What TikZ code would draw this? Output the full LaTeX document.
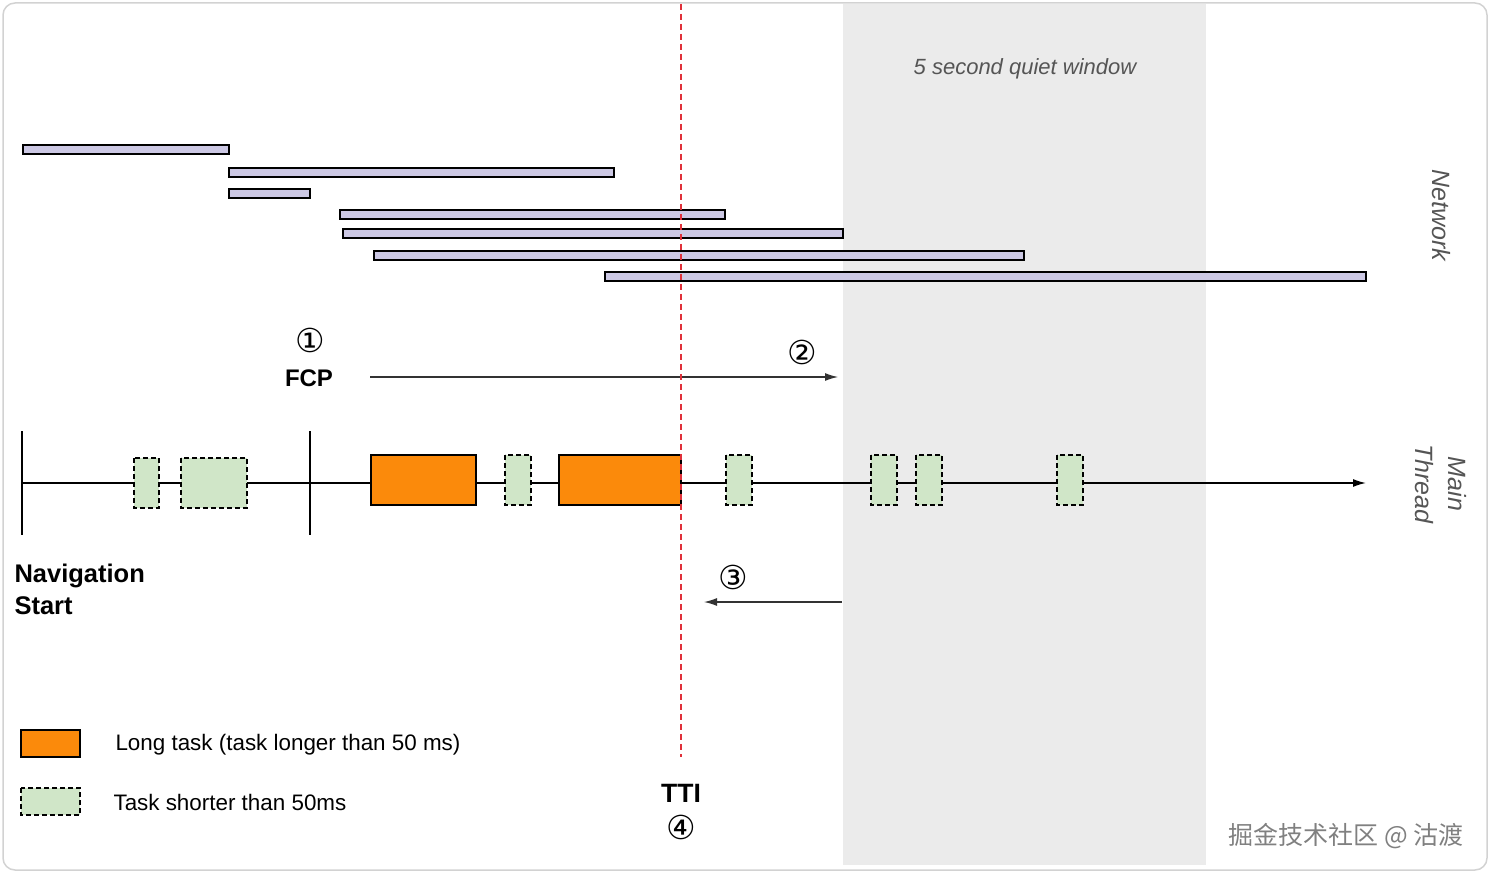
\documentclass[tikz,border=0pt]{standalone}
\usepackage{fontspec}
\setmainfont{Liberation Sans}
\newfontfamily\circfont{DejaVu Sans}
\newfontfamily\cjkfont{Noto Sans CJK SC}
\usetikzlibrary{arrows.meta}

\definecolor{reqcol}{HTML}{CCC8E4}
\definecolor{longcol}{HTML}{FB8A0B}
\definecolor{shortcol}{HTML}{D0E6C8}
\definecolor{quietcol}{HTML}{EBEBEB}
\definecolor{tticol}{HTML}{E0303A}
\definecolor{labelcol}{HTML}{555555}
\definecolor{arrowcol}{HTML}{333333}

\tikzset{
  request/.style={draw=black, fill=reqcol, line width=1.3pt},
  longtask/.style={draw=black, fill=longcol, line width=1.5pt},
  shorttask/.style={draw=black, fill=shortcol, line width=1.3pt, dash pattern=on 5pt off 3pt},
  circnum/.style={font=\circfont\fontsize{33}{33}\selectfont},
  boldlabel/.style={font=\bfseries\fontsize{24}{31}\selectfont},
  sidelabel/.style={labelcol, rotate=-90, align=center, font=\itshape\fontsize{25}{33}\selectfont}
}

\begin{document}
\begin{tikzpicture}[>={Latex[length=13pt,width=8pt]}, x=1pt, y=-1pt, font=\fontsize{22.4}{26}\selectfont]

\useasboundingbox (0,0) rectangle (1490,874);

\fill[quietcol] (843,4) rectangle (1206,865); %quiet window
\draw[gray!35, line width=1.5pt, rounded corners=12pt] (3,3) rectangle (1487,870);

\node[labelcol, font=\itshape\fontsize{22}{26}\selectfont] (quiet) at (1025,69) {5 second quiet window};

% network requests
\draw[request] (23,145) rectangle (229,154);
\draw[request] (229,168) rectangle (614,177);
\draw[request] (229,189) rectangle (310,198);
\draw[request] (340,210) rectangle (725,219);
\draw[request] (343,229) rectangle (843,238);
\draw[request] (374,251) rectangle (1024,260);
\draw[request] (605,272) rectangle (1366,281);

\node[sidelabel] (network) at (1441,215) {Network};
\node[sidelabel] (mainthread) at (1441,484) {Main\\Thread};

% FCP -> quiet window
\node[circnum] (one) at (310,340) {①};
\node[boldlabel] (fcp) at (309,378) {FCP};
\coordinate (fcpA) at (370,377);
\coordinate (fcpB) at (838,377);
\draw[arrowcol, line width=1.2pt, ->] (fcpA) -- (fcpB);
\node[circnum] (two) at (802,352) {②};

% main thread
\coordinate (navstart) at (22,483);
\coordinate (threadend) at (1366,483);
\draw[line width=1.5pt, ->] (navstart) -- (threadend);
\draw[line width=1.5pt] (22,431) -- (22,535);
\draw[line width=1.5pt] (310,431) -- (310,535);

\draw[shorttask] (134,458) rectangle (159,508);
\draw[shorttask] (181,458) rectangle (247,508);
\draw[longtask] (371,455) rectangle (476,505);
\draw[shorttask] (505,455) rectangle (531,505);
\draw[longtask] (559,455) rectangle (681,505);
\draw[shorttask] (726,455) rectangle (752,505);
\draw[shorttask] (871,455) rectangle (897,505);
\draw[shorttask] (916,455) rectangle (942,505);
\draw[shorttask] (1057,455) rectangle (1083,505);

\node[boldlabel, font=\bfseries\fontsize{25.5}{32}\selectfont, anchor=west, align=left] (nav) at (11,589) {Navigation\\Start};

% quiet window -> TTI
\node[circnum] (three) at (733,577) {③};
\coordinate (backA) at (842,602);
\coordinate (backB) at (704,602);
\draw[arrowcol, line width=1.2pt, ->] (backA) -- (backB);

% TTI
\coordinate (ttitop) at (681,4);
\coordinate (ttibot) at (681,757);
\draw[tticol, line width=1.3pt, dash pattern=on 6pt off 4pt] (ttitop) -- (ttibot);
\node[boldlabel, font=\bfseries\fontsize{26.5}{31}\selectfont] (tti) at (681,793) {TTI};
\node[circnum] (four) at (681,827) {④};

% legend
\draw[longtask] (21,730) rectangle (80,757);
\node[anchor=west] (longtxt) at (112,745) {Long task (task longer than 50 ms)};
\draw[shorttask] (21,788) rectangle (80,815);
\node[anchor=west] (shorttxt) at (110,802) {Task shorter than 50ms};

\node[gray, font=\cjkfont\fontsize{25}{25}\selectfont, anchor=east] (mark) at (1467,836) {掘金技术社区 @ 沽渡};

\end{tikzpicture}
\end{document}
